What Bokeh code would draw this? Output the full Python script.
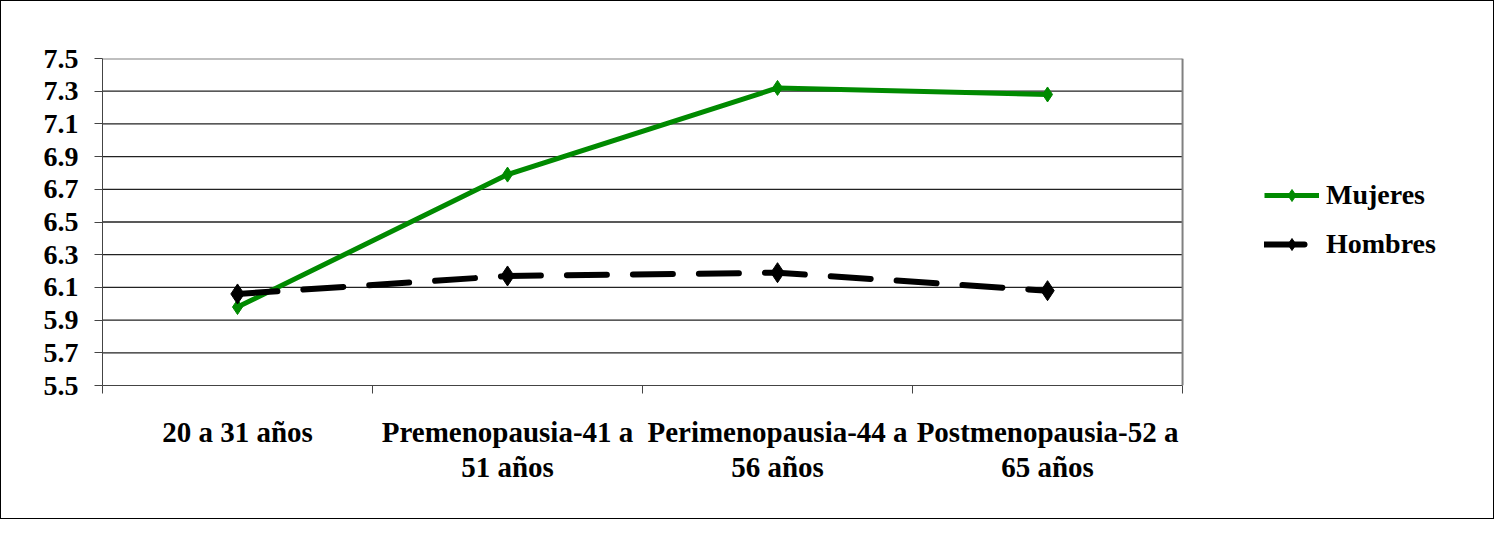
from bokeh.plotting import figure
from bokeh.models import Range1d, FixedTicker, Legend, LegendItem, Span
from bokeh.embed import file_html
from bokeh.resources import INLINE

categories = ["20 a 31 años", "Premenopausia-41 a\n51 años",
              "Perimenopausia-44 a\n56 años", "Postmenopausia-52 a\n65 años"]
mujeres = [5.98, 6.79, 7.32, 7.28]
hombres = [6.06, 6.17, 6.19, 6.08]
y_ticks = [5.5, 5.7, 5.9, 6.1, 6.3, 6.5, 6.7, 6.9, 7.1, 7.3, 7.5]
y_labels = ["5.5", "5.7", "5.9", "6.1", "6.3", "6.5", "6.7", "6.9", "7.1", "7.3", "7.5"]

n = len(categories)
xs = [i + 0.5 for i in range(n)]
FONT = "Liberation Serif"

# frame extends to the right so that the legend can sit inside it;
# the category area occupies [0, n]
p = figure(width=1494, height=519, output_backend="svg", toolbar_location=None,
           x_range=Range1d(0, n * 1.2805), y_range=Range1d(y_ticks[0], y_ticks[-1]),
           min_border_left=101, min_border_right=10, min_border_top=57, min_border_bottom=135)
p.styles = {"border": "1px solid black"}
p.background_fill_color = "white"
p.border_fill_color = "white"
p.outline_line_color = None

# axes
p.xaxis.bounds = (0, n)
p.xaxis.ticker = FixedTicker(ticks=xs, minor_ticks=list(range(n + 1)))
p.xaxis.major_label_overrides = {x: c for x, c in zip(xs, categories)}
p.xaxis.major_tick_out = 0
p.xaxis.major_tick_in = 0
p.xaxis.minor_tick_out = 8
p.xaxis.minor_tick_in = 0
p.xaxis.minor_tick_line_color = "#444444"
p.xaxis.axis_line_color = "#444444"
p.xaxis.major_label_standoff = 22
p.xaxis.major_label_text_font = FONT
p.xaxis.major_label_text_font_style = "bold"
p.xaxis.major_label_text_font_size = "29px"
p.xaxis.major_label_text_color = "black"
p.xaxis.major_label_text_line_height = 1.1

p.yaxis.ticker = FixedTicker(ticks=y_ticks, minor_ticks=[])
p.yaxis.major_label_overrides = {t: l for t, l in zip(y_ticks, y_labels)}
p.yaxis.major_tick_out = 8
p.yaxis.major_tick_in = 0
p.yaxis.major_tick_line_color = "#444444"
p.yaxis.axis_line_color = "#444444"
p.yaxis.major_label_standoff = 16
p.yaxis.major_label_text_font = FONT
p.yaxis.major_label_text_font_style = "bold"
p.yaxis.major_label_text_font_size = "28px"
p.yaxis.major_label_text_color = "black"

p.xgrid.grid_line_color = None
p.ygrid.grid_line_color = None

# horizontal gridlines limited to the category area
inner = y_ticks[1:-1]
p.segment(x0=[0] * len(inner), x1=[n] * len(inner), y0=inner, y1=inner,
          line_color="#222222", line_width=1.3)
p.segment(x0=[0], x1=[n], y0=[y_ticks[-1]], y1=[y_ticks[-1]],
          line_color="#808080", line_width=2)
p.add_layout(Span(location=n, dimension="height", line_color="#808080", line_width=2))

# series
lm = p.line(xs, mujeres, line_color="#008A00", line_width=5)
sm = p.scatter(xs, mujeres, marker="diamond", size=15, fill_color="#008A00", line_color="#008A00")
lh = p.line(xs, hombres, line_color="black", line_width=6, line_dash="40 26", line_cap="round")
sh = p.scatter(xs, hombres, marker="diamond", size=20, fill_color="black", line_color="black")

legend = Legend(items=[LegendItem(label="Mujeres", renderers=[lm, sm]),
                       LegendItem(label="Hombres", renderers=[lh, sh])],
                location=(1162, 125))
legend.border_line_color = None
legend.background_fill_alpha = 0
legend.padding = 0
legend.margin = 0
legend.spacing = 17
legend.glyph_width = 55
legend.glyph_height = 30
legend.label_height = 30
legend.label_standoff = 7
legend.label_text_font = FONT
legend.label_text_font_style = "bold"
legend.label_text_font_size = "28px"
legend.label_text_color = "black"
p.add_layout(legend, "center")

open("out.html", "w").write(file_html(p, INLINE))
